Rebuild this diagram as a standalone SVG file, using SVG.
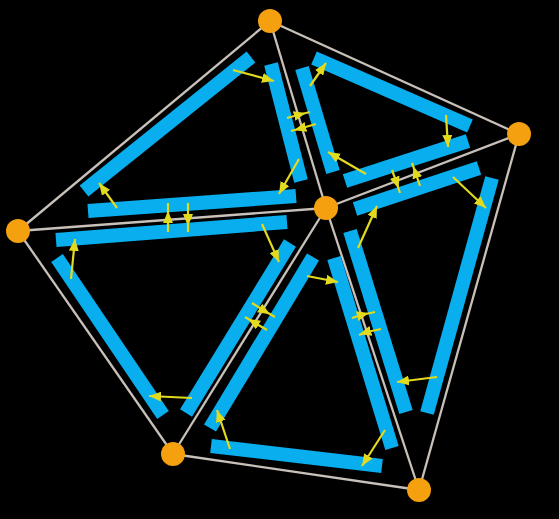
<svg xmlns="http://www.w3.org/2000/svg" width="559" height="519" viewBox="0 0 559 519">
<defs>
<marker id="hEnd" markerUnits="userSpaceOnUse" markerWidth="13" markerHeight="10" refX="12" refY="5" orient="auto"><path d="M0,0 L12,5 L0,10 z" fill="#E2DA1E"/></marker>
<marker id="hMid" markerUnits="userSpaceOnUse" markerWidth="13" markerHeight="10" refX="4" refY="5" orient="auto"><path d="M0,0 L12,5 L0,10 z" fill="#E2DA1E"/></marker>
</defs>
<style>
.edge{stroke:#C8C1B9;stroke-width:2.3;fill:none}
.bar{stroke:#08AEEE;stroke-width:14;stroke-linecap:butt}
.arr{stroke:#E2DA1E;stroke-width:2.2;fill:none;marker-end:url(#hEnd)}
.pair{stroke:#E2DA1E;stroke-width:2.2;fill:none;marker-mid:url(#hMid)}
.node{fill:#F5A00F}
</style>
<rect width="559" height="519" fill="#000"/>
<g id="connectors">
<line class="edge" x1="270" y1="21" x2="18" y2="231"/>
<line class="edge" x1="270" y1="21" x2="519" y2="134"/>
<line class="edge" x1="270" y1="21" x2="326" y2="208"/>
<line class="edge" x1="18" y1="231" x2="326" y2="208"/>
<line class="edge" x1="18" y1="231" x2="173" y2="454"/>
<line class="edge" x1="326" y1="208" x2="519" y2="134"/>
<line class="edge" x1="326" y1="208" x2="173" y2="454"/>
<line class="edge" x1="326" y1="208" x2="419" y2="490"/>
<line class="edge" x1="173" y1="454" x2="419" y2="490"/>
<line class="edge" x1="519" y1="134" x2="419" y2="490"/>
</g>
<g id="bars">
<line class="bar" x1="251" y1="57" x2="84" y2="191"/>
<line class="bar" x1="88" y1="211" x2="296" y2="196"/>
<line class="bar" x1="271" y1="64" x2="301" y2="181"/>
<line class="bar" x1="314" y1="58" x2="470" y2="126"/>
<line class="bar" x1="302" y1="68" x2="333" y2="172"/>
<line class="bar" x1="345" y1="181" x2="468" y2="141"/>
<line class="bar" x1="355" y1="209" x2="479" y2="168"/>
<line class="bar" x1="492" y1="178" x2="427" y2="413"/>
<line class="bar" x1="350" y1="231" x2="406" y2="412"/>
<line class="bar" x1="334" y1="258" x2="392" y2="448"/>
<line class="bar" x1="313" y1="257" x2="210" y2="428"/>
<line class="bar" x1="211" y1="446" x2="382" y2="466"/>
<line class="bar" x1="56" y1="240" x2="287" y2="222"/>
<line class="bar" x1="57" y1="258" x2="163" y2="415"/>
<line class="bar" x1="290" y1="243" x2="186" y2="413"/>
</g>
<g id="arrows">
<line class="arr" x1="233" y1="70" x2="274" y2="81"/>
<line class="arr" x1="117" y1="208" x2="99" y2="183"/>
<line class="arr" x1="299" y1="159" x2="279" y2="194"/>
<line class="arr" x1="310" y1="86" x2="326" y2="63"/>
<line class="arr" x1="446" y1="115" x2="448" y2="147"/>
<line class="arr" x1="366" y1="174" x2="328" y2="152"/>
<line class="arr" x1="453" y1="177" x2="486" y2="208"/>
<line class="arr" x1="358" y1="248" x2="377" y2="206"/>
<line class="arr" x1="437" y1="377" x2="397" y2="382"/>
<line class="arr" x1="307" y1="276" x2="338" y2="282"/>
<line class="arr" x1="385" y1="430" x2="362" y2="466"/>
<line class="arr" x1="230" y1="449" x2="217" y2="410"/>
<line class="arr" x1="71" y1="279" x2="75" y2="239"/>
<line class="arr" x1="262" y1="224" x2="279" y2="262"/>
<line class="arr" x1="192" y1="398" x2="149" y2="396"/>
<path class="pair" d="M168,232 L168,219 L168,203"/>
<path class="pair" d="M188,203 L188,218 L188,232"/>
<path class="pair" d="M287,118 L298,115 L310,112"/>
<path class="pair" d="M316,124 L302,128 L291,131"/>
<path class="pair" d="M392,170 L396,181 L400,193"/>
<path class="pair" d="M420,186 L416,174 L412,163"/>
<path class="pair" d="M352,318 L361,315 L375,312"/>
<path class="pair" d="M381,329 L367,332 L359,335"/>
<path class="pair" d="M252,303 L263,310 L275,317"/>
<path class="pair" d="M267,330 L255,323 L245,317"/>
</g>
<g id="node-top"><circle class="node" cx="270" cy="21" r="12"/></g>
<g id="node-right"><circle class="node" cx="519" cy="134" r="12"/></g>
<g id="node-center"><circle class="node" cx="326" cy="208" r="12"/></g>
<g id="node-left"><circle class="node" cx="18" cy="231" r="12"/></g>
<g id="node-bottom-left"><circle class="node" cx="173" cy="454" r="12"/></g>
<g id="node-bottom-right"><circle class="node" cx="419" cy="490" r="12"/></g>
</svg>
